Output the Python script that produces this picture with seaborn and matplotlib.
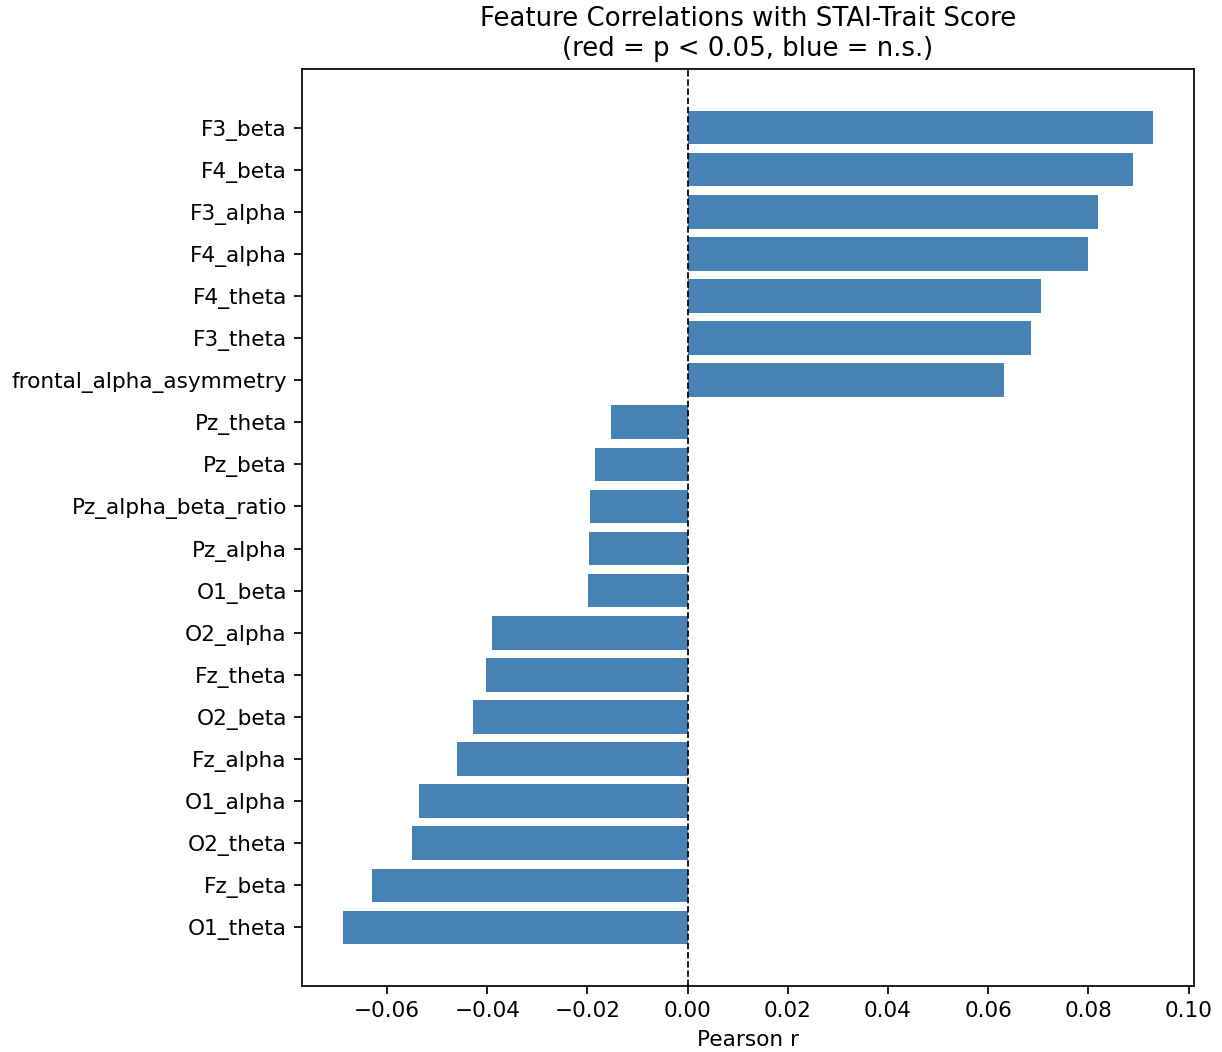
import matplotlib
matplotlib.use("Agg")
import matplotlib.pyplot as plt
import pandas as pd
import seaborn as sns

features = [
    "F3_beta", "F4_beta", "F3_alpha", "F4_alpha", "F4_theta", "F3_theta",
    "frontal_alpha_asymmetry", "Pz_theta", "Pz_beta", "Pz_alpha_beta_ratio",
    "Pz_alpha", "O1_beta", "O2_alpha", "Fz_theta", "O2_beta", "Fz_alpha",
    "O1_alpha", "O2_theta", "Fz_beta", "O1_theta",
]
pearson_r = [
    0.0930, 0.0890, 0.0819, 0.0799, 0.0705, 0.0685,
    0.0631, -0.0153, -0.0184, -0.0194,
    -0.0196, -0.0198, -0.0390, -0.0403, -0.0428, -0.0461,
    -0.0536, -0.0550, -0.0631, -0.0689,
]
p_values_significant = [False] * len(features)

df = pd.DataFrame({"feature": features, "r": pearson_r,
                   "sig": p_values_significant})
bar_colors = ["red" if s else "steelblue" for s in df["sig"]]

dpi = 156
fig = plt.figure(figsize=(1222 / dpi, 1052 / dpi), dpi=dpi)
ax = fig.add_axes([302 / 1222, 1 - 986 / 1052, (1194 - 302) / 1222, (986 - 69) / 1052])

sns.barplot(data=df, x="r", y="feature", hue="feature", palette=bar_colors,
            legend=False, saturation=1, width=0.8, orient="h", ax=ax)

n = len(features)
ax.set_ylim(n - 1 + 1.39, -1.39)
rmin, rmax = min(pearson_r), max(pearson_r)
pad = 0.05 * (rmax - rmin)
ax.set_xlim(rmin - pad, rmax + pad)

ax.axvline(0, color="black", linestyle="--", linewidth=0.8)
ax.set_xlabel("Pearson r")
ax.set_ylabel("")
ax.set_title("Feature Correlations with STAI-Trait Score\n(red = p < 0.05, blue = n.s.)")

fig.savefig("out.png", dpi=dpi)
